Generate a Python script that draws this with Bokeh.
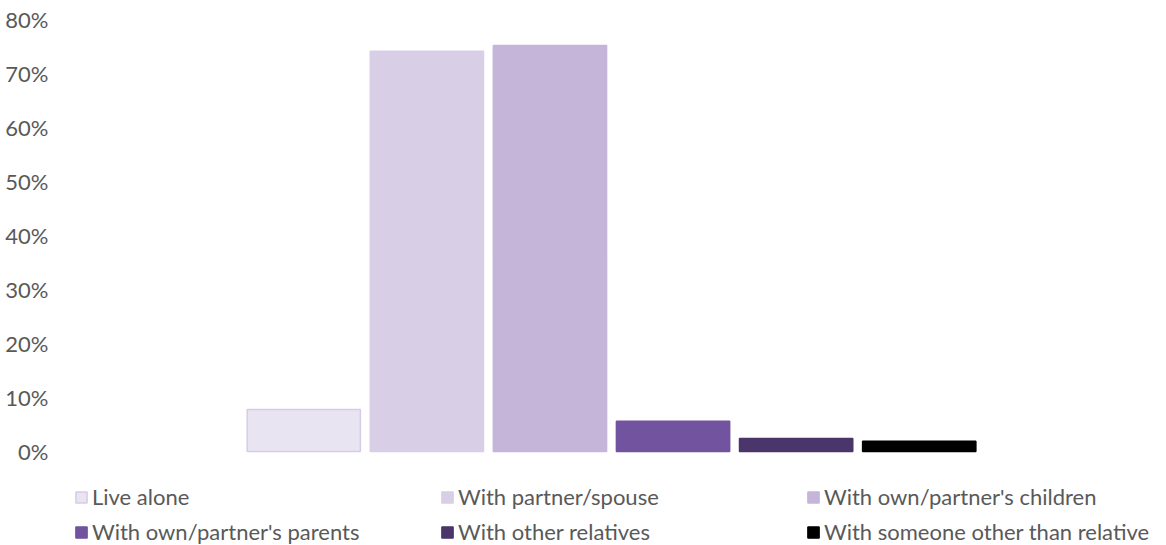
from bokeh.plotting import figure
from bokeh.models import Range1d, FixedTicker, NumeralTickFormatter, Legend, LegendItem
from bokeh.embed import file_html
from bokeh.resources import INLINE

series = ["Live alone", "With partner/spouse", "With own/partner's children",
          "With own/partner's parents", "With other relatives", "With someone other than relative"]
values = [0.078, 0.741, 0.752, 0.056, 0.024, 0.019]
fills = ["#E9E4F1", "#D8CEE6", "#C5B5D9", "#7253A0", "#4A366A", "#000000"]
edges = ["#D6CCE6", "#D8CEE6", "#C5B5D9", "#7253A0", "#4A366A", "#000000"]
y_ticks = [0, 0.1, 0.2, 0.3, 0.4, 0.5, 0.6, 0.7, 0.8]

FONT = "Lato"
n = len(series)
# frame reaches the canvas bottom so the legend can sit inside it, under the 0 line
top_px, zero_px, H = 19, 451, 545
ymax = 0.8
ymin = -ymax * (H - zero_px) / (zero_px - top_px)
p = figure(width=1166, height=H, output_backend="svg", toolbar_location=None,
           x_axis_location=None, x_range=Range1d(-1.96, n - 1 + 1.96), y_range=Range1d(ymin, ymax))
p.min_border_left = 62
p.min_border_right = 6
p.min_border_top = top_px
p.min_border_bottom = 0
p.outline_line_color = None
p.xgrid.visible = False
p.ygrid.visible = False
p.background_fill_color = "white"
p.border_fill_color = "white"

yax = p.yaxis[0]
yax.ticker = FixedTicker(ticks=y_ticks)
yax.formatter = NumeralTickFormatter(format="0%")
yax.axis_line_color = None
yax.major_tick_line_color = None
yax.minor_tick_line_color = None
yax.major_label_text_font = FONT
yax.major_label_text_font_size = "22px"
yax.major_label_text_color = "#595959"
yax.major_label_standoff = 8

items = []
for i, (name, v) in enumerate(zip(series, values)):
    r = p.vbar(x=[i], top=[v], bottom=0, width=0.92, fill_color=fills[i],
               line_color=edges[i], line_width=1.5)
    items.append(LegendItem(label=name, renderers=[r]))

legend = Legend(items=items, location=(12, 0), orientation="horizontal", ncols=3,
                glyph_width=14, glyph_height=14, label_standoff=4, label_width=340,
                label_height=26, spacing=8, padding=0, margin=0,
                label_text_font=FONT, label_text_font_size="22px", label_text_color="#595959",
                border_line_color=None, background_fill_alpha=0)
p.add_layout(legend, "center")

open("out.html", "w").write(file_html(p, INLINE))
